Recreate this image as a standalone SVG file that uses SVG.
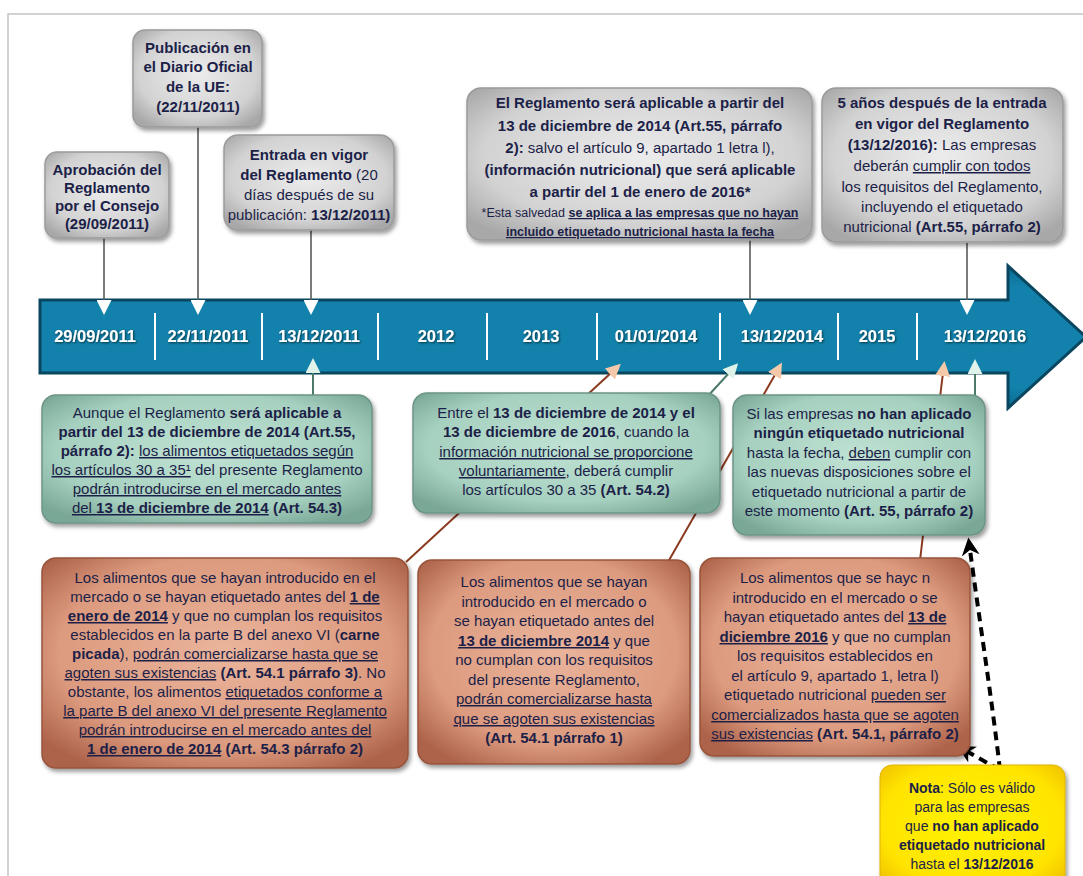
<svg xmlns="http://www.w3.org/2000/svg" width="1083" height="876" viewBox="0 0 1083 876">
<style>
.t{font-family:"Liberation Sans",Arial,sans-serif;font-size:15px;fill:#1c1f48;text-anchor:middle}
.s{font-size:12.5px}
.y{font-size:14px}
.b{font-weight:bold}
.u{text-decoration:underline}
.tl{font-family:"Liberation Sans",Arial,sans-serif;font-size:16.5px;font-weight:bold;fill:#fff;text-anchor:middle;filter:url(#ts)}
.gray{fill:url(#gGray);stroke:#9b9b9b;stroke-width:1.5;filter:url(#sh)}
.green{fill:url(#gGreen);stroke:#6d9585;stroke-width:1.5;filter:url(#sh)}
.orange{fill:url(#gOrange);stroke:#98543c;stroke-width:1.5;filter:url(#sh)}
.yellow{fill:url(#gYellow);stroke:#e0b400;stroke-width:1;filter:url(#sh)}
.cg{stroke:#5a5a5a;stroke-width:1.6;fill:none}
.cgr{stroke:#4b7a68;stroke-width:2;fill:none}
.cbr{stroke:#8b3a1f;stroke-width:2;fill:none}
.cd{stroke:#000;stroke-width:4;stroke-dasharray:9 6;fill:none}
.div{stroke:#fff;stroke-width:2}
</style>
<defs>
<filter id="sh" x="-10%" y="-10%" width="125%" height="130%"><feDropShadow dx="2" dy="3" stdDeviation="2" flood-color="#000" flood-opacity="0.4"/></filter>
<filter id="ts" x="-10%" y="-30%" width="120%" height="170%"><feDropShadow dx="1" dy="1" stdDeviation="1" flood-color="#022" flood-opacity="0.8"/></filter>
<radialGradient id="gGray" cx="50%" cy="45%" r="65%"><stop offset="0" stop-color="#ececec"/><stop offset="0.7" stop-color="#d2d2d2"/><stop offset="1" stop-color="#a8a8a8"/></radialGradient>
<radialGradient id="gGreen" cx="50%" cy="45%" r="65%"><stop offset="0" stop-color="#bfe2d3"/><stop offset="0.7" stop-color="#a6d0bf"/><stop offset="1" stop-color="#7aa897"/></radialGradient>
<radialGradient id="gOrange" cx="50%" cy="45%" r="65%"><stop offset="0" stop-color="#eab59c"/><stop offset="0.7" stop-color="#dc9a7e"/><stop offset="1" stop-color="#ad634a"/></radialGradient>
<radialGradient id="gYellow" cx="50%" cy="45%" r="65%"><stop offset="0" stop-color="#fff300"/><stop offset="0.75" stop-color="#ffe400"/><stop offset="1" stop-color="#f2c400"/></radialGradient>
<linearGradient id="gBand" x1="0" y1="0" x2="0" y2="1"><stop offset="0" stop-color="#0b6b90"/><stop offset="0.15" stop-color="#1282ac"/><stop offset="0.85" stop-color="#1282ac"/><stop offset="1" stop-color="#0b6b90"/></linearGradient>
<marker id="mW" viewBox="0 0 10 10" refX="2" refY="5" markerWidth="15" markerHeight="15" markerUnits="userSpaceOnUse" orient="auto"><path d="M0,0 L10,5 L0,10 z" fill="#ffffff"/></marker>
<marker id="mG" viewBox="0 0 10 10" refX="2" refY="5" markerWidth="15" markerHeight="15" markerUnits="userSpaceOnUse" orient="auto"><path d="M0,0 L10,5 L0,10 z" fill="#dff3ea"/></marker>
<marker id="mP" viewBox="0 0 10 10" refX="2" refY="5" markerWidth="15" markerHeight="15" markerUnits="userSpaceOnUse" orient="auto"><path d="M0,0 L10,5 L0,10 z" fill="#f4c9aa"/></marker>
<marker id="mK" viewBox="0 0 10 10" refX="3" refY="5" markerWidth="18" markerHeight="18" markerUnits="userSpaceOnUse" orient="auto"><path d="M0,0 L10,5 L0,10 L3,5 z" fill="#000"/></marker>
</defs>

<rect width="1083" height="876" fill="#ffffff"/>
<path d="M8,876 V14 H1083" fill="none" stroke="#c4c4c4" stroke-width="1.5"/>

<g id="timeline">
<path d="M40,300 H1008 V266 L1086,337 L1008,408 V373 H40 Z" fill="url(#gBand)" stroke="#09465f" stroke-width="3"/>
<line class="div" x1="155" y1="313" x2="155" y2="360"/>
<line class="div" x1="262" y1="313" x2="262" y2="360"/>
<line class="div" x1="378" y1="313" x2="378" y2="360"/>
<line class="div" x1="487" y1="313" x2="487" y2="360"/>
<line class="div" x1="597" y1="313" x2="597" y2="360"/>
<line class="div" x1="720" y1="313" x2="720" y2="360"/>
<line class="div" x1="838" y1="313" x2="838" y2="360"/>
<line class="div" x1="917" y1="313" x2="917" y2="360"/>
<text class="tl" x="95" y="342">29/09/2011</text>
<text class="tl" x="208" y="342">22/11/2011</text>
<text class="tl" x="319" y="342">13/12/2011</text>
<text class="tl" x="436" y="342">2012</text>
<text class="tl" x="541" y="342">2013</text>
<text class="tl" x="656" y="342">01/01/2014</text>
<text class="tl" x="782" y="342">13/12/2014</text>
<text class="tl" x="877" y="342">2015</text>
<text class="tl" x="985" y="342">13/12/2016</text>
</g>

<g id="connectors">
<line class="cg" x1="104" y1="238" x2="104" y2="303" marker-end="url(#mW)"/>
<line class="cg" x1="198" y1="127" x2="198" y2="303" marker-end="url(#mW)"/>
<line class="cg" x1="311" y1="230" x2="311" y2="303" marker-end="url(#mW)"/>
<line class="cg" x1="750" y1="240" x2="750" y2="303" marker-end="url(#mW)"/>
<line class="cg" x1="967" y1="243" x2="967" y2="303" marker-end="url(#mW)"/>
<line class="cgr" x1="313" y1="396" x2="313" y2="370" marker-end="url(#mG)"/>
<line class="cbr" x1="406" y1="562" x2="612" y2="372" marker-end="url(#mP)"/>
<line class="cgr" x1="707" y1="397" x2="730" y2="372" marker-end="url(#mG)"/>
<line class="cbr" x1="668" y1="562" x2="776" y2="373" marker-end="url(#mP)"/>
<line class="cbr" x1="920" y1="560" x2="943" y2="373" marker-end="url(#mP)"/>
<line class="cgr" x1="975" y1="396" x2="975" y2="371" marker-end="url(#mG)"/>
<path class="cd" d="M1000,770 C992,700 978,610 970,550" marker-end="url(#mK)"/>
<path class="cd" d="M1000,770 L968,752" marker-end="url(#mK)"/>
</g>

<g id="n-aprobacion">
<rect class="gray" x="45" y="152" width="124" height="86" rx="12"/>
<text class="t b" x="107" y="175">Aprobación del</text>
<text class="t b" x="107" y="193">Reglamento</text>
<text class="t b" x="107" y="211">por el Consejo</text>
<text class="t b" x="107" y="229">(29/09/2011)</text>
</g>

<g id="n-publicacion">
<rect class="gray" x="133" y="30" width="129" height="97" rx="12"/>
<text class="t b" x="198" y="53">Publicación en</text>
<text class="t b" x="198" y="72">el Diario Oficial</text>
<text class="t b" x="198" y="92">de la UE:</text>
<text class="t b" x="198" y="112">(22/11/2011)</text>
</g>

<g id="n-vigor">
<rect class="gray" x="224" y="135" width="170" height="95" rx="14"/>
<text class="t b" x="309" y="160">Entrada en vigor</text>
<text class="t" x="309" y="180"><tspan class="b">del Reglamento</tspan> (20</text>
<text class="t" x="309" y="200">días después de su</text>
<text class="t" x="309" y="220">publicación: <tspan class="b">13/12/2011)</tspan></text>
</g>

<g id="n-aplicable">
<rect class="gray" x="467" y="88" width="345" height="152" rx="14"/>
<text class="t b" x="640" y="108">El Reglamento será aplicable a partir del</text>
<text class="t b" x="640" y="131">13 de diciembre de 2014 (Art.55, párrafo</text>
<text class="t" x="640" y="153"><tspan class="b">2):</tspan> salvo el artículo 9, apartado 1 letra l),</text>
<text class="t b" x="640" y="175">(información nutricional) que será aplicable</text>
<text class="t b" x="640" y="197">a partir del 1 de enero de 2016*</text>
<text class="t s" x="640" y="217">*Esta salvedad <tspan class="b u">se aplica a las empresas que no hayan</tspan></text>
<text class="t s b u" x="640" y="236">incluido etiquetado nutricional hasta la fecha</text>
</g>

<g id="n-5anos">
<rect class="gray" x="822" y="88" width="241" height="154" rx="14"/>
<text class="t b" x="942" y="108">5 años después de la entrada</text>
<text class="t b" x="942" y="129">en vigor del Reglamento</text>
<text class="t" x="942" y="150"><tspan class="b">(13/12/2016):</tspan> Las empresas</text>
<text class="t" x="942" y="171">deberán <tspan class="u">cumplir con todos</tspan></text>
<text class="t" x="942" y="192">los requisitos del Reglamento,</text>
<text class="t" x="942" y="212">incluyendo el etiquetado</text>
<text class="t" x="942" y="232">nutricional <tspan class="b">(Art.55, párrafo 2)</tspan></text>
</g>

<g id="g-aunque">
<rect class="green" x="42" y="395" width="330" height="128" rx="14"/>
<text class="t" x="207" y="418">Aunque el Reglamento <tspan class="b">será aplicable a</tspan></text>
<text class="t b" x="207" y="437">partir del 13 de diciembre de 2014 (Art.55,</text>
<text class="t" x="207" y="456"><tspan class="b">párrafo 2):</tspan> <tspan class="u">los alimentos etiquetados según</tspan></text>
<text class="t" x="207" y="475"><tspan class="u">los artículos 30 a 35¹</tspan> del presente Reglamento</text>
<text class="t u" x="207" y="494">podrán introducirse en el mercado antes</text>
<text class="t" x="207" y="513"><tspan class="u">del <tspan class="b">13 de diciembre de 2014</tspan></tspan> <tspan class="b">(Art. 54.3)</tspan></text>
</g>

<g id="g-entre">
<rect class="green" x="413" y="393" width="307" height="120" rx="14"/>
<text class="t" x="566" y="418">Entre el <tspan class="b">13 de diciembre de 2014 y el</tspan></text>
<text class="t" x="566" y="437"><tspan class="b">13 de diciembre de 2016</tspan>, cuando la</text>
<text class="t u" x="566" y="457">información nutricional se proporcione</text>
<text class="t" x="566" y="476"><tspan class="u">voluntariamente</tspan>, deberá cumplir</text>
<text class="t" x="566" y="495">los artículos 30 a 35 <tspan class="b">(Art. 54.2)</tspan></text>
</g>

<g id="g-si">
<rect class="green" x="733" y="395" width="252" height="140" rx="14"/>
<text class="t" x="859" y="419">Si las empresas <tspan class="b">no han aplicado</tspan></text>
<text class="t b" x="859" y="438">ningún etiquetado nutricional</text>
<text class="t" x="859" y="458">hasta la fecha, <tspan class="u">deben</tspan> cumplir con</text>
<text class="t" x="859" y="477">las nuevas disposiciones sobre el</text>
<text class="t" x="859" y="497">etiquetado nutricional a partir de</text>
<text class="t" x="859" y="516">este momento <tspan class="b">(Art. 55, párrafo 2)</tspan></text>
</g>

<g id="o-enero2014">
<rect class="orange" x="42" y="558" width="366" height="210" rx="14"/>
<text class="t" x="225" y="583">Los alimentos que se hayan introducido en el</text>
<text class="t" x="225" y="602">mercado o se hayan etiquetado antes del <tspan class="b u">1 de</tspan></text>
<text class="t" x="225" y="621"><tspan class="b u">enero de 2014</tspan> y que no cumplan los requisitos</text>
<text class="t" x="225" y="640">establecidos en la parte B del anexo VI (<tspan class="b">carne</tspan></text>
<text class="t" x="225" y="659"><tspan class="b">picada</tspan>), <tspan class="u">podrán comercializarse hasta que se</tspan></text>
<text class="t" x="225" y="678"><tspan class="u">agoten sus existencias</tspan> <tspan class="b">(Art. 54.1 párrafo 3)</tspan>. No</text>
<text class="t" x="225" y="697">obstante, los alimentos <tspan class="u">etiquetados conforme a</tspan></text>
<text class="t u" x="225" y="716">la parte B del anexo VI del presente Reglamento</text>
<text class="t u" x="225" y="735">podrán introducirse en el mercado antes del</text>
<text class="t" x="225" y="754"><tspan class="b u">1 de enero de 2014</tspan> <tspan class="b">(Art. 54.3 párrafo 2)</tspan></text>
</g>

<g id="o-dic2014">
<rect class="orange" x="418" y="560" width="272" height="204" rx="14"/>
<text class="t" x="554" y="587">Los alimentos que se hayan</text>
<text class="t" x="554" y="607">introducido en el mercado o</text>
<text class="t" x="554" y="626">se hayan etiquetado antes del</text>
<text class="t" x="554" y="646"><tspan class="b u">13 de diciembre 2014</tspan> y que</text>
<text class="t" x="554" y="665">no cumplan con los requisitos</text>
<text class="t" x="554" y="685">del presente Reglamento,</text>
<text class="t u" x="554" y="704">podrán comercializarse hasta</text>
<text class="t u" x="554" y="724">que se agoten sus existencias</text>
<text class="t b" x="554" y="743">(Art. 54.1 párrafo 1)</text>
</g>

<g id="o-dic2016">
<rect class="orange" x="700" y="558" width="270" height="198" rx="14"/>
<text class="t" x="835" y="583">Los alimentos que se hayc n</text>
<text class="t" x="835" y="603">introducido en el mercado o se</text>
<text class="t" x="835" y="622">hayan etiquetado antes del <tspan class="b u">13 de</tspan></text>
<text class="t" x="835" y="642"><tspan class="b u">diciembre 2016</tspan> y que no cumplan</text>
<text class="t" x="835" y="661">los requisitos establecidos en</text>
<text class="t" x="835" y="681">el artículo 9, apartado 1, letra l)</text>
<text class="t" x="835" y="700">etiquetado nutricional <tspan class="u">pueden ser</tspan></text>
<text class="t u" x="835" y="720">comercializados hasta que se agoten</text>
<text class="t" x="835" y="739"><tspan class="u">sus existencias</tspan> <tspan class="b">(Art. 54.1, párrafo 2)</tspan></text>
</g>

<g id="note">
<rect class="yellow" x="880" y="765" width="185" height="130" rx="12"/>
<text class="t y" x="972" y="793"><tspan class="b">Nota</tspan>: Sólo es válido</text>
<text class="t y" x="972" y="812">para las empresas</text>
<text class="t y" x="972" y="831">que <tspan class="b">no han aplicado</tspan></text>
<text class="t y b" x="972" y="850">etiquetado nutricional</text>
<text class="t y" x="972" y="869">hasta el <tspan class="b">13/12/2016</tspan></text>
</g>
</svg>
